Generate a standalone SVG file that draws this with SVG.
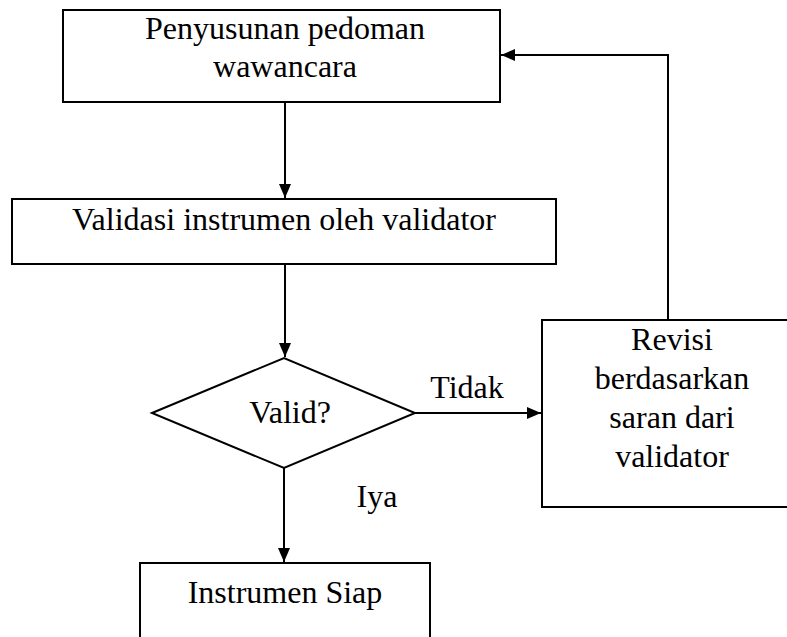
<svg xmlns="http://www.w3.org/2000/svg" width="787" height="637" viewBox="0 0 787 637">
<style>
.box{fill:#fff;stroke:#000;stroke-width:2}
.t{font-family:"Liberation Serif","Times New Roman",serif;font-size:32px;fill:#000;text-anchor:middle}
.c{fill:none;stroke:#000;stroke-width:2}
</style>
<defs>
<marker id="ah" markerWidth="15" markerHeight="14" refX="14" refY="7" orient="auto" markerUnits="userSpaceOnUse">
<path d="M0,1 L14,7 L0,13 Z" fill="#000"/>
</marker>
</defs>
<rect width="787" height="637" fill="#fff"/>
<g id="n1">
<rect class="box" x="63" y="10" width="437" height="92"/>
<text class="t" x="285" y="39">Penyusunan pedoman</text>
<text class="t" x="285" y="77">wawancara</text>
</g>
<g id="n2">
<rect class="box" x="12" y="199" width="544" height="65"/>
<text class="t" x="284" y="230">Validasi instrumen oleh validator</text>
</g>
<g id="n3">
<polygon class="box" points="152,413 284,358 415,413 284,468"/>
<text class="t" x="290" y="423">Valid?</text>
</g>
<g id="n4">
<rect class="box" x="542" y="320" width="300" height="187"/>
<text class="t" x="672" y="350">Revisi</text>
<text class="t" x="672" y="389">berdasarkan</text>
<text class="t" x="672" y="428">saran dari</text>
<text class="t" x="672" y="467">validator</text>
</g>
<g id="n5">
<rect class="box" x="140" y="563" width="290" height="90"/>
<text class="t" x="285" y="603">Instrumen Siap</text>
</g>
<g id="connectors">
<line class="c" x1="285" y1="102" x2="285" y2="198" marker-end="url(#ah)"/>
<line class="c" x1="285" y1="264" x2="285" y2="357" marker-end="url(#ah)"/>
<line class="c" x1="415" y1="413" x2="541" y2="413" marker-end="url(#ah)"/>
<line class="c" x1="284" y1="468" x2="284" y2="562" marker-end="url(#ah)"/>
<polyline class="c" points="668,320 668,55 501,55" marker-end="url(#ah)"/>
<text class="t" x="467" y="398">Tidak</text>
<text class="t" x="377" y="507">Iya</text>
</g>
</svg>
